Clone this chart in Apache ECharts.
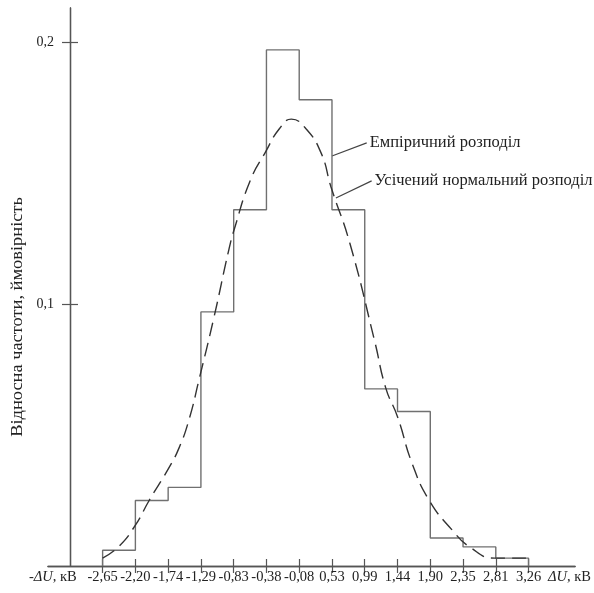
<!DOCTYPE html>
<html>
<head>
<meta charset="utf-8">
<script src="https://cdn.jsdelivr.net/npm/echarts@6/dist/echarts.min.js"></script>
<style>
  html, body { margin: 0; padding: 0; background: #fff; }
  #chart { width: 594px; height: 593px; }
</style>
</head>
<body>
<div id="chart"></div>
<script>
// bin edges are drawn at tick positions 1..14
var tickLabels = ['-2,65', '-2,20', '-1,74', '-1,29', '-0,83', '-0,38', '-0,08',
                  '0,53', '0,99', '1,44', '1,90', '2,35', '2,81', '3,26'];
var tickPos = [1, 2, 3, 4, 5, 6, 7, 8, 9, 10, 11, 12, 13, 14];
// relative frequency of each bin (empirical)
var binFreq = [0.006, 0.025, 0.030, 0.097, 0.136, 0.197, 0.178, 0.136, 0.0676, 0.059, 0.0107, 0.0073, 0.003];
// truncated normal curve: [position, probability]
var normalCurve = [
  [1, 0.003], [1.5, 0.0075], [2, 0.0156], [2.42, 0.025], [3, 0.037], [3.33, 0.045],
  [3.64, 0.056], [3.94, 0.071], [4.4, 0.095], [4.85, 0.1206], [5.03, 0.129], [5.5, 0.147],
  [5.97, 0.158], [6.4, 0.167], [6.76, 0.1706], [7.2, 0.167], [7.67, 0.1576], [7.97, 0.1447],
  [8.55, 0.123], [9.3, 0.086], [9.64, 0.068], [10.0, 0.057], [10.45, 0.039], [10.97, 0.025],
  [11.67, 0.0137], [12.2, 0.0073], [12.97, 0.003], [13.94, 0.003]
];
var yTicks = [0.1, 0.2];
var yTickLabels = ['0,1', '0,2'];

var font = 'Liberation Serif';
var axisColor = '#555';

// step outline of the histogram
var histPts = [[tickPos[0], 0]];
for (var i = 0; i < binFreq.length; i++) {
  histPts.push([tickPos[i], binFreq[i]]);
  histPts.push([tickPos[i + 1], binFreq[i]]);
}
histPts.push([tickPos[tickPos.length - 1], 0]);

var chart = echarts.init(document.getElementById('chart'));

function xAxisCfg(inside) {
  return {
    type: 'value', position: 'bottom', min: -0.667, max: 15.42,
    axisLine: { onZero: false, lineStyle: { color: axisColor, width: 1.3 } },
    splitLine: { show: false },
    axisTick: { show: true, inside: inside, length: 7, customValues: tickPos, lineStyle: { color: axisColor, width: 1.2 } },
    axisLabel: inside ? { show: false } : {
      show: true, margin: 4, color: '#222', fontFamily: font, fontSize: 14.5,
      customValues: [-0.52].concat(tickPos).concat([15.25]),
      formatter: function (v) {
        if (v < 0) return '-{i|ΔU}, кВ';
        if (v > 14.5) return '{i|ΔU}, кВ';
        return tickLabels[Math.round(v) - 1];
      },
      rich: { i: { fontStyle: 'italic', fontFamily: font, fontSize: 14.5, color: '#222' } }
    }
  };
}
// y axis sits 22px right of the grid edge, where x position 0 is
function yAxisCfg(inside) {
  return {
    type: 'value', position: 'left', offset: -22, min: 0, max: 0.213,
    axisLine: { onZero: false, lineStyle: { color: axisColor, width: 1.3 } },
    splitLine: { show: false },
    axisTick: { show: true, inside: inside, length: 8, customValues: yTicks, lineStyle: { color: axisColor, width: 1.2 } },
    axisLabel: inside ? { show: false } : {
      show: true, margin: 16, color: '#222', fontFamily: font, fontSize: 14,
      customValues: yTicks,
      formatter: function (v) { return yTickLabels[yTicks.indexOf(v)]; }
    }
  };
}

chart.setOption({
  animation: false,
  backgroundColor: '#fff',
  grid: { left: 48, right: 15, top: 8, bottom: 27 },
  xAxis: [xAxisCfg(false), xAxisCfg(true)],
  yAxis: [yAxisCfg(false), yAxisCfg(true)],
  series: [
    {
      name: 'Емпіричний розподіл',
      type: 'line',
      data: histPts,
      showSymbol: false,
      lineStyle: { color: '#707070', width: 1.4 }
    },
    {
      name: 'Усічений нормальний розподіл',
      type: 'line',
      data: normalCurve,
      smooth: true,
      showSymbol: false,
      lineStyle: { color: '#333', width: 1.4, type: [14, 7] }
    }
  ]
});

// leader lines and captions anchored in data space
var leaders = [
  { from: [8.0, 0.1565], to: [9.06, 0.1615], text: 'Емпіричний розподіл' },
  { from: [8.12, 0.1405], to: [9.21, 0.147], text: 'Усічений нормальний розподіл' }
];
var graphics = [];
leaders.forEach(function (l) {
  var a = chart.convertToPixel({ gridIndex: 0 }, l.from);
  var b = chart.convertToPixel({ gridIndex: 0 }, l.to);
  graphics.push({ type: 'line', shape: { x1: a[0], y1: a[1], x2: b[0], y2: b[1] }, style: { stroke: '#444', lineWidth: 1.2 } });
  graphics.push({ type: 'text', x: b[0] + 3, y: b[1], style: { text: l.text, font: '16.5px "Liberation Serif"', fill: '#222', textVerticalAlign: 'middle' } });
});
graphics.push({
  type: 'text', x: 18, y: 317, rotation: Math.PI / 2, scaleX: 1.15,
  style: { text: 'Відносна частоти, ймовірність', font: '16px "Liberation Serif"', fill: '#222', textAlign: 'center', textVerticalAlign: 'middle' }
});
chart.setOption({ graphic: graphics });
window.onresize = chart.resize;
</script>
</body>
</html>
